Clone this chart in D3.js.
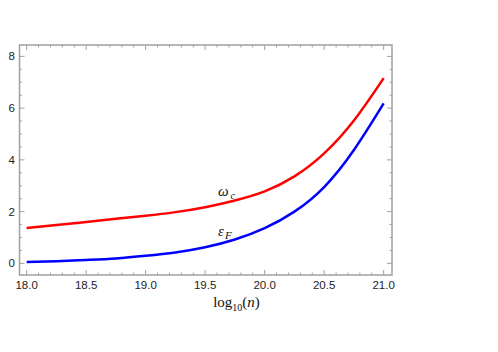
<!DOCTYPE html>
<html><head><meta charset="utf-8">
<script src="https://cdn.jsdelivr.net/npm/d3@7"></script>
<style>body{margin:0;background:#fff}svg{display:block}</style>
</head><body>
<svg id="c" width="498" height="352"></svg>
<script>
const logN = [18.0,18.25,18.5,18.75,19.0,19.25,19.5,19.75,20.0,20.25,20.5,20.75,21.0];
const omegaC = [1.37,1.48,1.60,1.72,1.84,1.98,2.17,2.43,2.78,3.36,4.25,5.52,7.16];
const epsF  = [0.05,0.08,0.13,0.19,0.29,0.42,0.62,0.92,1.36,2.00,2.95,4.38,6.18];
const xTicks = [18.0,18.5,19.0,19.5,20.0,20.5,21.0];
const yTicks = [0,2,4,6,8];

const svg = d3.select('#c');
const L=19.5, R=392, T=45, B=275;
const x = d3.scaleLinear().domain([17.94,21.07]).range([L,R]);
const y = d3.scaleLinear().domain([-0.45,8.44]).range([B,T]);
const frameCol = '#a0a0a0';

const xMinor = d3.range(18.0,21.05,0.1).map(v=>+v.toFixed(2));
const yMinor = d3.range(0,8.5,0.5);
const g = svg.append('g');
function tickX(v,len){
  g.append('line').attr('x1',x(v)).attr('x2',x(v)).attr('y1',B).attr('y2',B-len).attr('stroke',frameCol).attr('stroke-width',1);
  g.append('line').attr('x1',x(v)).attr('x2',x(v)).attr('y1',T).attr('y2',T+len).attr('stroke',frameCol).attr('stroke-width',1);
}
function tickY(v,len){
  g.append('line').attr('y1',y(v)).attr('y2',y(v)).attr('x1',L).attr('x2',L+len).attr('stroke',frameCol).attr('stroke-width',1);
  g.append('line').attr('y1',y(v)).attr('y2',y(v)).attr('x1',R).attr('x2',R-len).attr('stroke',frameCol).attr('stroke-width',1);
}
xMinor.forEach(v=>tickX(v, xTicks.some(t=>Math.abs(t-v)<1e-6)?5:2.5));
yMinor.forEach(v=>tickY(v, yTicks.some(t=>Math.abs(t-v)<1e-6)?5:2.5));

svg.append('rect').attr('x',L).attr('y',T).attr('width',R-L).attr('height',B-T)
  .attr('fill','none').attr('stroke',frameCol).attr('stroke-width',1.5);

svg.selectAll('.xl').data(xTicks).enter().append('text')
  .attr('x',d=>x(d)).attr('y',289).attr('text-anchor','middle')
  .attr('font-family','Liberation Sans, Arial, sans-serif').attr('font-size',11.5).attr('fill','#222')
  .text(d=>d.toFixed(1));
svg.selectAll('.yl').data(yTicks).enter().append('text')
  .attr('x',15).attr('y',d=>y(d)+4).attr('text-anchor','end')
  .attr('font-family','Liberation Sans, Arial, sans-serif').attr('font-size',11.5).attr('fill','#222')
  .text(d=>d);

const line = d3.line().x((d,i)=>x(logN[i])).y(d=>y(d)).curve(d3.curveNatural);
svg.append('path').datum(omegaC).attr('d',line).attr('fill','none').attr('stroke','#ff0000').attr('stroke-width',2.5);
svg.append('path').datum(epsF).attr('d',line).attr('fill','none').attr('stroke','#0000ff').attr('stroke-width',2.5);

const serif='Liberation Serif, Times New Roman, serif';
const t1 = svg.append('text').attr('x',218).attr('y',196).attr('font-family',serif).attr('font-size',15).attr('fill','#111');
t1.append('tspan').attr('font-style','italic').text('ω');
t1.append('tspan').attr('font-style','italic').attr('font-size',10).attr('dx',2).attr('dy',3).text('c');
const t2 = svg.append('text').attr('x',218).attr('y',236).attr('font-family',serif).attr('font-size',15).attr('fill','#111');
t2.append('tspan').attr('font-style','italic').text('ε');
t2.append('tspan').attr('font-style','italic').attr('font-size',11).attr('dx',1).attr('dy',3).text('F');

const xl = svg.append('text').attr('x',236.5).attr('y',307).attr('text-anchor','middle')
  .attr('font-family',serif).attr('font-size',15).attr('fill','#111');
xl.append('tspan').text('log');
xl.append('tspan').attr('font-size',10).attr('dy',4).text('10');
xl.append('tspan').attr('dy',-4).text('(');
xl.append('tspan').attr('font-style','italic').text('n');
xl.append('tspan').text(')');
</script>
</body></html>
